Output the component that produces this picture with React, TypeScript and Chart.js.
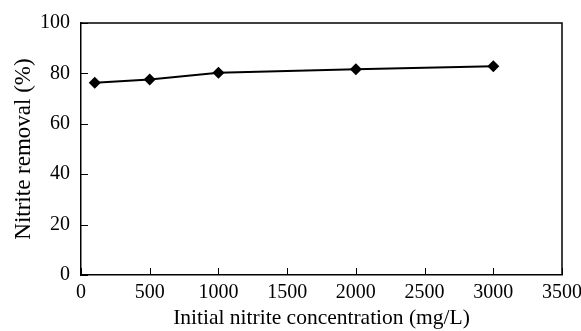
import React, { useEffect, useRef } from "react";
import { Chart, registerables } from "chart.js";

Chart.register(...registerables);

const concentrations = [100, 500, 1000, 2000, 3000];
const removal = [76.3, 77.6, 80.3, 81.6, 82.8];
const xTitle = "Initial nitrite concentration (mg/L)";
const yTitle = "Nitrite removal (%)";

export default function App() {
  const ref = useRef<HTMLCanvasElement | null>(null);
  useEffect(() => {
    const family = "'Liberation Serif', 'Times New Roman', serif";
    const tickFont = { family, size: 20 };
    const chart = new Chart(ref.current!, {
      type: "scatter",
      data: {
        datasets: [
          {
            data: concentrations.map((x, i) => ({ x, y: removal[i] })),
            showLine: true,
            borderColor: "#000",
            borderWidth: 2,
            backgroundColor: "#000",
            pointStyle: "rectRot",
            pointRadius: 6,
            pointBorderColor: "#000",
            pointBackgroundColor: "#000",
            pointBorderWidth: 0,
          },
        ],
      },
      options: {
        responsive: false,
        animation: false,
        plugins: { legend: { display: false }, tooltip: { enabled: false } },
        layout: { padding: { top: 23, right: 0, left: 0, bottom: 0 } },
        scales: {
          x: {
            type: "linear",
            min: 0,
            max: 3500,
            grid: { display: false, drawTicks: false },
            border: { color: "#000", width: 1.5 },
            ticks: { stepSize: 500, color: "#000", font: tickFont, padding: 6, maxRotation: 0, callback: (v: any) => String(v) },
            title: { display: true, text: xTitle, color: "#000", font: { family, size: 21.5 }, padding: { top: 0, bottom: 0 } },
            afterFit(scale: any) {
              scale.height = 56;
              scale.paddingRight = 19;
              scale.paddingLeft = 0;
            },
          },
          y: {
            min: 0,
            max: 100,
            grid: { display: false, drawTicks: false },
            border: { color: "#000", width: 1.5 },
            ticks: { stepSize: 20, color: "#000", font: tickFont, padding: 11, callback: (v: any) => String(v) },
            title: { display: true, text: yTitle, color: "#000", font: { family, size: 23 }, padding: { top: 10, bottom: 0 } },
            afterFit(scale: any) {
              scale.width = 81;
            },
          },
        },
      },
      plugins: [
        {
          id: "frame",
          afterDraw(c: any) {
            const { ctx, chartArea } = c;
            const xs = c.scales.x;
            const ys = c.scales.y;
            ctx.save();
            ctx.strokeStyle = "#000";
            ctx.lineWidth = 1.5;
            ctx.beginPath();
            ctx.moveTo(chartArea.left, chartArea.top);
            ctx.lineTo(chartArea.right, chartArea.top);
            ctx.lineTo(chartArea.right, chartArea.bottom);
            ctx.stroke();
            ctx.lineWidth = 1;
            ctx.beginPath();
            xs.ticks.forEach((t: any) => {
              const px = Math.round(xs.getPixelForValue(t.value)) + 0.5;
              ctx.moveTo(px, chartArea.bottom);
              ctx.lineTo(px, chartArea.bottom - 7);
            });
            ys.ticks.forEach((t: any) => {
              const py = Math.round(ys.getPixelForValue(t.value)) + 0.5;
              ctx.moveTo(chartArea.left, py);
              ctx.lineTo(chartArea.left + 7, py);
            });
            ctx.stroke();
            ctx.restore();
          },
        },
      ],
    });
    return () => chart.destroy();
  }, []);
  return (
    <div style={{ position: "fixed", left: 0, top: 0, width: 581, height: 331, background: "#fff" }}>
      <canvas ref={ref} width={581} height={331} />
    </div>
  );
}
